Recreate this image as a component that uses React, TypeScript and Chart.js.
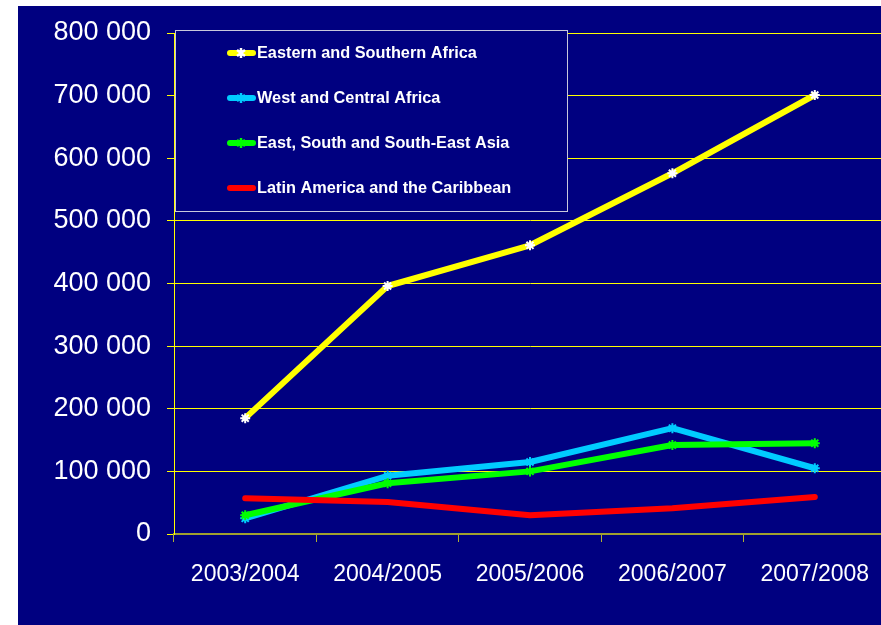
import React, { useEffect, useRef } from "react";
import { Chart, registerables } from "chart.js";

Chart.register(...registerables);

const categories = ["2003/2004", "2004/2005", "2005/2006", "2006/2007", "2007/2008"];
const seriesNames = [
  "Eastern and Southern Africa",
  "West and Central Africa",
  "East, South and South-East Asia",
  "Latin America and the Caribbean",
];
const eastSouthAfrica = [185000, 396000, 461000, 576000, 701000];
const westCentralAfrica = [25000, 93000, 115000, 169000, 105000];
const eastSouthAsia = [30000, 81000, 100000, 142000, 145000];
const latinAmerica = [57000, 51000, 30000, 41000, 59000];
const yTicks = [0, 100000, 200000, 300000, 400000, 500000, 600000, 700000, 800000];

const NAVY = "#000080";
const FONT = "'Liberation Sans', Arial, sans-serif";

const fmt = (v: number) => String(v).replace(/\B(?=(\d{3})+(?!\d))/g, " ");

const bgPlugin = {
  id: "bg",
  beforeDraw(chart: any) {
    const ctx = chart.ctx;
    ctx.save();
    ctx.fillStyle = "#ffffff";
    ctx.fillRect(0, 0, chart.width, chart.height);
    ctx.fillStyle = NAVY;
    ctx.fillRect(18, 6, chart.width - 18, chart.height - 6);
    ctx.restore();
  },
};

const legendPlugin = {
  id: "boxLegend",
  afterDraw(chart: any) {
    const ctx = chart.ctx;
    ctx.save();
    ctx.fillStyle = NAVY;
    ctx.fillRect(175, 30, 392, 181);
    ctx.strokeStyle = "#c8c8dc";
    ctx.lineWidth = 1;
    ctx.strokeRect(175.5, 30.5, 392, 181);
    chart.data.datasets.forEach((ds: any, i: number) => {
      const y = 53 + i * 45;
      ctx.strokeStyle = ds.borderColor;
      ctx.lineWidth = 6;
      ctx.lineCap = "round";
      ctx.beginPath();
      ctx.moveTo(230, y);
      ctx.lineTo(253, y);
      ctx.stroke();
      if (ds.pointRadius > 0) {
        ctx.strokeStyle = ds.pointBorderColor;
        ctx.lineWidth = 2.5;
        ctx.lineCap = "butt";
        ctx.beginPath();
        ctx.moveTo(241, y - 5);
        ctx.lineTo(241, y + 5);
        ctx.moveTo(237, y - 3);
        ctx.lineTo(245, y + 3);
        ctx.moveTo(237, y + 3);
        ctx.lineTo(245, y - 3);
        ctx.stroke();
      }
      ctx.fillStyle = "#ffffff";
      ctx.font = `bold 16.3px ${FONT}`;
      ctx.textAlign = "left";
      ctx.textBaseline = "middle";
      ctx.fillText(ds.label, 257, y + 1);
    });
    ctx.restore();
  },
};

export default function App() {
  const ref = useRef<HTMLCanvasElement | null>(null);
  useEffect(() => {
    document.body.style.margin = "0";
    const canvas = ref.current;
    if (!canvas) return;
    const mk = (label: string, data: number[], color: string, marker: string, order: number, radius: number) => ({
      label,
      data,
      borderColor: color,
      backgroundColor: color,
      borderWidth: 6,
      borderCapStyle: "round",
      borderJoinStyle: "round",
      tension: 0,
      pointStyle: "star",
      pointRadius: radius,
      pointBorderColor: marker,
      pointBackgroundColor: marker,
      pointBorderWidth: 2,
      order,
    });
    const chart = new Chart(canvas, {
      type: "line",
      data: {
        labels: categories,
        datasets: [
          mk(seriesNames[0], eastSouthAfrica, "#ffff00", "#ffffff", 4, 5),
          mk(seriesNames[1], westCentralAfrica, "#00ccff", "#00ccff", 3, 5),
          mk(seriesNames[2], eastSouthAsia, "#00ff00", "#00ff00", 2, 5),
          mk(seriesNames[3], latinAmerica, "#ff0000", "#ff0000", 1, 0),
        ] as any,
      },
      options: {
        responsive: false,
        animation: false,
        events: [],
        layout: { padding: { left: 0, top: 33, right: 0, bottom: 0 } },
        plugins: { legend: { display: false }, tooltip: { enabled: false } },
        scales: {
          x: {
            type: "category",
            offset: true,
            afterFit: (s: any) => {
              s.height = 91;
            },
            grid: {
              offset: true,
              drawOnChartArea: false,
              drawTicks: true,
              tickLength: 8,
              color: "#b0b030",
              lineWidth: 1,
            },
            border: { display: true, color: "#a0a030", width: 2 },
            ticks: {
              color: "#ffffff",
              font: { family: FONT, size: 23 },
              padding: 19,
              maxRotation: 0,
              autoSkip: false,
            },
          },
          y: {
            min: 0,
            max: 800000,
            afterFit: (s: any) => {
              s.width = 174;
            },
            afterBuildTicks: (s: any) => {
              s.ticks = yTicks.map((v) => ({ value: v }));
            },
            grid: {
              color: "#ffff00",
              lineWidth: 1,
              tickLength: 7,
              drawTicks: true,
            },
            border: { display: true, color: "#ffff00", width: 1 },
            ticks: {
              color: "#ffffff",
              font: { family: FONT, size: 27 },
              padding: 16,
              callback: (v: any) => fmt(Number(v)),
            },
          },
        },
      } as any,
      plugins: [bgPlugin, legendPlugin],
    });
    return () => chart.destroy();
  }, []);
  return (
    <div style={{ position: "relative", width: 881, height: 625, overflow: "hidden", background: "#ffffff" }}>
      <canvas ref={ref} width={893} height={625} style={{ position: "absolute", left: 0, top: 0, width: 893, height: 625 }} />
    </div>
  );
}
